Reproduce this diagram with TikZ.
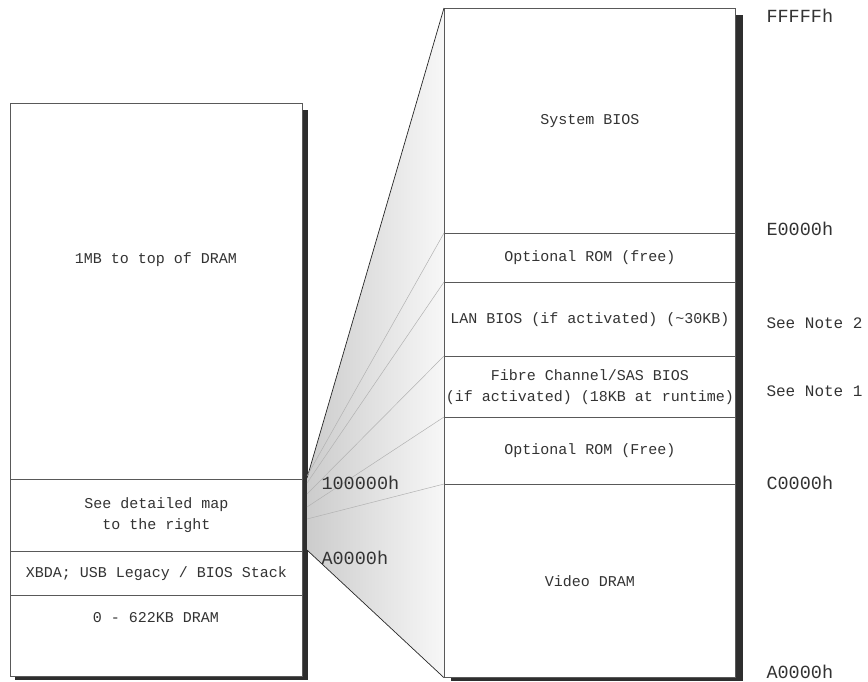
\documentclass[tikz,border=0pt]{standalone}
\usepackage{fontspec}
\setmainfont{Liberation Mono}
\begin{document}
\begin{tikzpicture}[x=1pt,y=-1pt,
      seg/.style={draw=black!65,line width=0.7pt,fill=white,inner sep=0pt,anchor=north west,
                  align=center,text=black!80,font=\fontsize{15}{21}\selectfont},
      shadow/.style={fill=black!82,draw=none},
      txt/.style={align=center,text=black!80,font=\fontsize{15}{21}\selectfont},
      addr/.style={anchor=west,text=black!80,font=\fontsize{18.5}{20}\selectfont},
      note/.style={anchor=west,text=black!80,font=\fontsize{16}{20}\selectfont},
      ray/.style={draw=black!30,line width=0.5pt},
      edge/.style={draw=black!85,line width=0.7pt}
]
      \useasboundingbox (0,0) rectangle (868,681);
      % shadows
      \fill[shadow] (15,110) rectangle (308,680);
      \fill[shadow] (451,15) rectangle (743,681);
      % fan from the left map to the detailed map
      \coordinate (fanA) at (307,478);
      \coordinate (fanB) at (307,550);
      \shade[left color=black!20,right color=black!3] (fanA) -- (444,8) -- (444,677) -- (fanB) -- cycle;
      % left map
      \node[seg,minimum width=292pt,minimum height=376pt] (topram) at (10,103) {};
      \node[seg,minimum width=292pt,minimum height=72pt] (detail) at (10,479) {See detailed map\\to the right};
      \node[seg,minimum width=292pt,minimum height=44pt] (xbda) at (10,551) {XBDA; USB Legacy / BIOS Stack};
      \node[seg,minimum width=292pt,minimum height=81pt] (lowram) at (10,595) {};
      \node[txt] (toptext) at (156,260) {1MB to top of DRAM};
      \node[txt] (lowtext) at (156,618) {0 - 622KB DRAM};
      % detailed map
      \node[seg,minimum width=291pt,minimum height=225pt] (sysbios) at (444,8) {System BIOS};
      \node[seg,minimum width=291pt,minimum height=49pt] (optrom) at (444,233) {Optional ROM (free)};
      \node[seg,minimum width=291pt,minimum height=74pt] (lanbios) at (444,282) {LAN BIOS (if activated) (\textasciitilde30KB)};
      \node[seg,minimum width=291pt,minimum height=61pt] (fcbios) at (444,356) {Fibre Channel/SAS BIOS\\(if activated) (18KB at runtime)};
      \node[seg,minimum width=291pt,minimum height=67pt] (optromb) at (444,417) {Optional ROM (Free)};
      \node[seg,minimum width=291pt,minimum height=193pt] (vdram) at (444,484) {Video DRAM};
      % fan edges and rays
      \draw[edge] (fanA) -- (sysbios.north west);
      \draw[edge] (fanB) -- (vdram.south west);
      \draw[ray] (307,476) -- (optrom.north west);
      \draw[ray] (307,483) -- (lanbios.north west);
      \draw[ray] (307,494) -- (fcbios.north west);
      \draw[ray] (307,507) -- (optromb.north west);
      \draw[ray] (307,519) -- (vdram.north west);
      % addresses
      \node[addr] (hiA) at (318,483) {100000h};
      \node[addr] (loA) at (318,558) {A0000h};
      \node[addr] (ffff) at (763,16) {FFFFFh};
      \node[addr] (e000) at (763,229) {E0000h};
      \node[note] (note2) at (763,323) {See Note 2};
      \node[note] (note1) at (763,391) {See Note 1};
      \node[addr] (c000) at (763,483) {C0000h};
      \node[addr] (a000) at (763,672) {A0000h};
\end{tikzpicture}
\end{document}
